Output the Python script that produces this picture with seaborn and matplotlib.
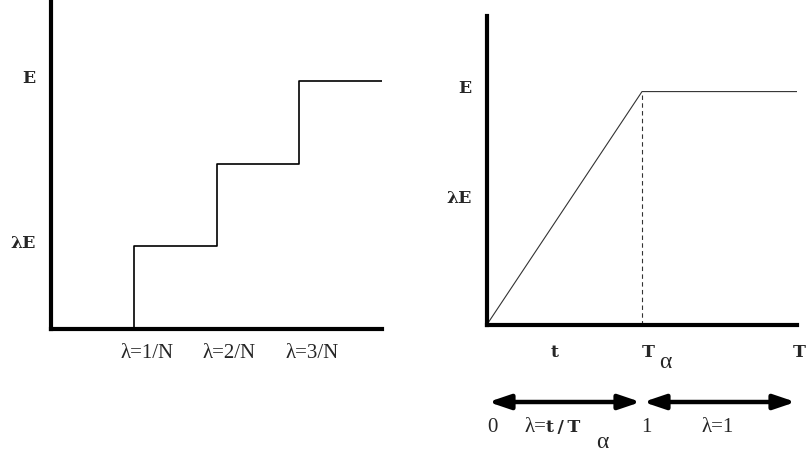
import matplotlib
matplotlib.use("Agg")
import matplotlib.pyplot as plt
import matplotlib.transforms as mtransforms
import seaborn as sns
import pandas as pd

# left panel: energy released in N equal steps
step_x = [1, 1, 2, 3, 4]
step_y = [0, 1, 2, 3, 3]
step_ticks = [1, 2, 3]
step_labels = ['λ=1/N', 'λ=2/N', 'λ=3/N']
left_levels = [1, 3]
left_level_labels = ['λE', 'E']

# right panel: linear ramp up to T_alpha, then flat at E
ramp_x = [0.0, 0.5, 1.0]
ramp_y = [0.0, 0.755, 0.755]
T_alpha = 0.5
E_level = 0.755
right_levels = [0.40, 0.755]
right_level_labels = ['λE', 'E']
time_ticks = [0.2, 0.5, 1.0]
time_labels = ['t', 'T', 'T']

sns.set_style("white")
plt.rcParams['font.family'] = ['Liberation Serif', 'DejaVu Serif']

W, H = 806, 454
fig = plt.figure(figsize=(W / 100, H / 100), dpi=100)
pxt = mtransforms.Affine2D().scale(1 / W, -1 / H).translate(0, 1) + fig.transFigure

def px_axes(x0, y0, x1, y1):
    return fig.add_axes([x0 / W, 1 - y1 / H, (x1 - x0) / W, (y1 - y0) / H])

def shift(labels, dx, dy):
    for lab in labels:
        lab.set_transform(lab.get_transform() +
                          mtransforms.ScaledTranslation(dx / 100, dy / 100, fig.dpi_scale_trans))

# stands in for the Courier Bold of the original
mono = dict(family=['DejaVu Serif'], weight='bold', size=12.5)
serif_size = 15

def style_axes(ax):
    for side in ['top', 'right']:
        ax.spines[side].set_visible(False)
    for side in ['left', 'bottom']:
        ax.spines[side].set_linewidth(3)
        ax.spines[side].set_color('black')
        ax.spines[side].set_capstyle('projecting')
    ax.tick_params(length=0)
    ax.set_xlabel('')
    ax.set_ylabel('')

# ---- left panel
ax1 = px_axes(51, -1.4, 382, 329)
sns.lineplot(data=pd.DataFrame({'x': step_x, 'y': step_y}), x='x', y='y',
             estimator=None, sort=False, drawstyle='steps-post',
             color='black', lw=1.2, ax=ax1)
ax1.set_xlim(0, 4)
ax1.set_ylim(0, 4)
style_axes(ax1)
ax1.set_xticks(step_ticks, step_labels, fontsize=serif_size)
ax1.set_yticks(left_levels, left_level_labels, **mono)
ax1.tick_params(axis='x', pad=11)
ax1.tick_params(axis='y', pad=11)
shift(ax1.get_xticklabels(), 13, 0)
shift(ax1.get_yticklabels(), 0, 5)

# ---- right panel
ax2 = px_axes(487, 16, 797, 324.5)
sns.lineplot(x=ramp_x, y=ramp_y, estimator=None, sort=False,
             color='#333333', lw=0.8, ax=ax2)
ax2.plot([T_alpha, T_alpha], [0, E_level], color='#333333', lw=0.8,
         dashes=(4, 3))
ax2.set_xlim(0, 1)
ax2.set_ylim(0, 1)
style_axes(ax2)
ax2.set_xticks(time_ticks, time_labels, **mono)
ax2.set_yticks(right_levels, right_level_labels, **mono)
ax2.tick_params(axis='x', pad=14)
ax2.tick_params(axis='y', pad=11)
xl = ax2.get_xticklabels()
shift(xl[:2], 6, 0)
shift(xl[2:], 2, 0)
shift(ax2.get_yticklabels(), 0, 5)
fig.text(665, 363, 'α', transform=pxt, ha='center', va='center', fontsize=17)

# double arrows below the time axis
arr_t = mtransforms.blended_transform_factory(ax2.transData, ax2.transAxes)
arrow_y = (324.5 - 402) / 308.5
for a, b in [(0, T_alpha), (T_alpha, 1.0)]:
    ax2.annotate('', xy=(b, arrow_y), xytext=(a, arrow_y),
                 xycoords=arr_t, textcoords=arr_t, annotation_clip=False,
                 arrowprops=dict(arrowstyle='<|-|>,head_length=0.65,head_width=0.22',
                                 mutation_scale=20, lw=3.2, color='black',
                                 shrinkA=1, shrinkB=1))

base = 432
fig.text(487, base, '0', transform=pxt, ha='left', va='baseline', fontsize=serif_size)
fig.text(546, base, 'λ=', transform=pxt, ha='right', va='baseline', fontsize=serif_size)
fig.text(546, base, 't\u2009/\u2009T', transform=pxt, ha='left', va='baseline', **mono)
fig.text(602, 442, 'α', transform=pxt, ha='center', va='center', fontsize=17)
fig.text(646, base, '1', transform=pxt, ha='center', va='baseline', fontsize=serif_size)
fig.text(718, base, 'λ=1', transform=pxt, ha='center', va='baseline', fontsize=serif_size)

fig.savefig('out.png', dpi=100)
